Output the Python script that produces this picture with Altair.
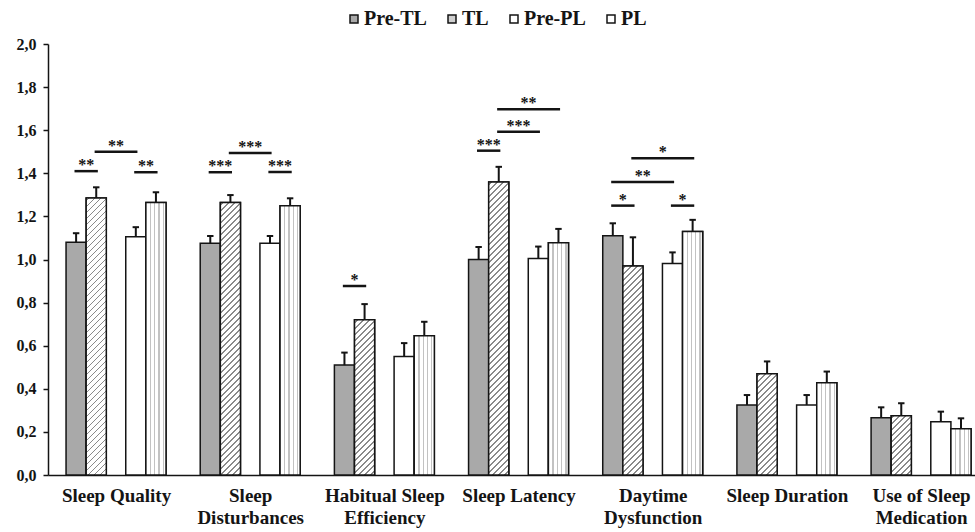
import json
import altair as alt

# ---------------- data ----------------
categories = ["Sleep Quality", "Sleep Disturbances", "Habitual Sleep Efficiency",
              "Sleep Latency", "Daytime Dysfunction", "Sleep Duration",
              "Use of Sleep Medication"]
category_lines = [["Sleep Quality"], ["Sleep", "Disturbances"],
                  ["Habitual Sleep", "Efficiency"], ["Sleep Latency"],
                  ["Daytime", "Dysfunction"], ["Sleep Duration"],
                  ["Use of Sleep", "Medication"]]
series = ["Pre-TL", "TL", "Pre-PL", "PL"]

pre_tl = [1.08, 1.075, 0.51, 1.00, 1.11, 0.325, 0.266]
pre_tl_se = [0.042, 0.034, 0.058, 0.058, 0.058, 0.046, 0.048]
tl = [1.285, 1.265, 0.72, 1.36, 0.97, 0.47, 0.275]
tl_se = [0.05, 0.034, 0.073, 0.07, 0.133, 0.057, 0.058]
pre_pl = [1.105, 1.075, 0.55, 1.005, 0.982, 0.325, 0.247]
pre_pl_se = [0.045, 0.034, 0.062, 0.055, 0.051, 0.046, 0.047]
pl = [1.265, 1.25, 0.646, 1.078, 1.13, 0.428, 0.215]
pl_se = [0.047, 0.034, 0.065, 0.064, 0.054, 0.052, 0.048]

# significance brackets
sig_cat = [0, 0, 0, 1, 1, 1, 2, 3, 3, 3, 4, 4, 4, 4]
sig_from = ["Pre-TL", "TL", "Pre-PL", "Pre-TL", "TL", "Pre-PL", "Pre-TL",
            "Pre-TL", "TL", "TL", "Pre-TL", "Pre-TL", "TL", "Pre-PL"]
sig_to = ["TL", "Pre-PL", "PL", "TL", "Pre-PL", "PL", "TL",
          "TL", "Pre-PL", "PL", "TL", "Pre-PL", "PL", "PL"]
sig_level = [1.41, 1.50, 1.405, 1.405, 1.494, 1.406, 0.877,
             1.505, 1.593, 1.697, 1.25, 1.36, 1.47, 1.25]
sig_label = ["**", "**", "**", "***", "***", "***", "*",
             "***", "***", "**", "*", "**", "*", "*"]

y_ticks = [round(i * 0.2, 1) for i in range(11)]

# ---------------- layout / style ----------------
W_PLOT, H_PLOT = 927, 431
X_DOMAIN = [-0.507, 6.402]
Y_DOMAIN = [0, 2]
PX_X = W_PLOT / (X_DOMAIN[1] - X_DOMAIN[0])
PX_Y = H_PLOT / (Y_DOMAIN[1] - Y_DOMAIN[0])
BAR_W = 0.15
slot_start = {"Pre-TL": -0.3725, "TL": -0.2225, "Pre-PL": 0.0725, "PL": 0.2225}
CAP = 0.024
FONT = "Liberation Serif"
INK = "#141414"
HATCH = "#8a8a8a"
fill_colors = ["#a9a9a9", "#cfcfcf", "#ffffff", "#ffffff"]


def diag_gradient(value):
    """'/' hatching inside a bar, expressed as a bbox-relative linear gradient."""
    w = BAR_W * PX_X
    h = max(value * PX_Y, 1.0)
    k = (w + h) / (w * w + h * h)
    L = w + h
    period, thick = 6.0, 1.7
    stops = [{"offset": 0, "color": "#ffffff"}]
    pos = 2.0
    while pos < L:
        a = round(pos / L, 5)
        b = round(min((pos + thick) / L, 1.0), 5)
        stops += [{"offset": a, "color": "#ffffff"}, {"offset": a, "color": HATCH},
                  {"offset": b, "color": HATCH}, {"offset": b, "color": "#ffffff"}]
        pos += period
    stops.append({"offset": 1, "color": "#ffffff"})
    return {"gradient": "linear", "x1": 0, "y1": 0,
            "x2": round(w * k, 6), "y2": round(h * k, 6), "stops": stops}


def vert_gradient():
    w = BAR_W * PX_X
    stops = [{"offset": 0, "color": "#ffffff"}]
    for xpx in [4.0, 8.3, 12.6, 16.9]:
        a = round(xpx / w, 5)
        b = round((xpx + 1.3) / w, 5)
        stops += [{"offset": a, "color": "#ffffff"}, {"offset": a, "color": "#c2c2c2"},
                  {"offset": b, "color": "#c2c2c2"}, {"offset": b, "color": "#ffffff"}]
    stops.append({"offset": 1, "color": "#ffffff"})
    return alt.Gradient(gradient="linear", x1=0, y1=0, x2=1, y2=0, stops=stops)


values = {"Pre-TL": (pre_tl, pre_tl_se), "TL": (tl, tl_se),
          "Pre-PL": (pre_pl, pre_pl_se), "PL": (pl, pl_se)}

rows = []
tl_rows = []
for i, cat in enumerate(categories):
    for s in series:
        v = values[s][0][i]
        e = values[s][1][i]
        x0 = i + slot_start[s]
        c = x0 + BAR_W / 2
        row = {"category": cat, "series": s, "value": v, "top": v + e,
               "x0": x0, "x1": x0 + BAR_W, "center": c,
               "cap0": c - CAP, "cap1": c + CAP}
        rows.append(row)
        if s == "TL":
            r2 = dict(row)
            r2["grad"] = diag_gradient(v)
            tl_rows.append(r2)

pl_rows = [r for r in rows if r["series"] == "PL"]

sig_rows = []
for ci, a, b, lvl, lab in zip(sig_cat, sig_from, sig_to, sig_level, sig_label):
    ca = ci + slot_start[a] + BAR_W / 2
    cb = ci + slot_start[b] + BAR_W / 2
    sig_rows.append({"xa": ca - 0.012, "xb": cb + 0.012, "xm": (ca + cb) / 2,
                     "level": lvl, "label": lab})

# ---------------- chart ----------------
xscale = alt.Scale(domain=X_DOMAIN, nice=False, zero=False)
yscale = alt.Scale(domain=Y_DOMAIN, nice=False, zero=True)

label_expr = json.dumps(category_lines) + "[datum.value]"

xaxis = alt.Axis(values=list(range(len(categories))), labelExpr=label_expr,
                 ticks=False, grid=False, domainColor=INK, domainWidth=1.5,
                 labelFont=FONT, labelFontWeight="bold", labelFontSize=19,
                 labelColor=INK, labelPadding=11, labelLineHeight=22,
                 labelOverlap=False, labelFlush=False, labelBound=False, title=None)
yaxis = alt.Axis(values=y_ticks,
                 labelExpr="replace(format(datum.value, '.1f'), '.', ',')",
                 grid=False, domainColor=INK, domainWidth=1.5, tickColor=INK,
                 tickWidth=1.5, tickSize=5, labelFont=FONT, labelFontWeight="bold",
                 labelFontSize=16, labelColor=INK, labelPadding=7,
                 labelOverlap=False, labelFlush=False, title=None)

base = alt.Chart(alt.Data(values=rows))

bars = base.mark_rect(stroke=INK, strokeWidth=1.5).encode(
    x=alt.X("x0:Q", scale=xscale, axis=xaxis),
    x2="x1:Q",
    y=alt.Y("value:Q", scale=yscale, axis=yaxis),
    y2=alt.datum(0),
    fill=alt.Fill("series:N", scale=alt.Scale(domain=series, range=fill_colors),
                  legend=alt.Legend(orient="none", legendX=296, legendY=-35,
                                    direction="horizontal", title=None,
                                    symbolType="square", symbolSize=64,
                                    symbolStrokeColor=INK, symbolStrokeWidth=1.5,
                                    labelFont=FONT, labelFontWeight="bold",
                                    labelFontSize=20, labelColor=INK,
                                    labelOffset=0, columnPadding=15, padding=0)),
)

tl_overlay = alt.Chart(alt.Data(values=tl_rows)).mark_rect(
    stroke=INK, strokeWidth=1.5).encode(
    x="x0:Q", x2="x1:Q", y="value:Q", y2=alt.datum(0),
    fill=alt.Fill(field="grad", type="nominal", scale=None, legend=None),
)

pl_overlay = alt.Chart(alt.Data(values=pl_rows)).mark_rect(
    stroke=INK, strokeWidth=1.5, fill=vert_gradient()).encode(
    x="x0:Q", x2="x1:Q", y="value:Q", y2=alt.datum(0),
)

err = base.mark_rule(color=INK, strokeWidth=2).encode(
    x="center:Q", y="value:Q", y2="top:Q")
caps = base.mark_rule(color=INK, strokeWidth=2).encode(
    x="cap0:Q", x2="cap1:Q", y="top:Q")

sig_base = alt.Chart(alt.Data(values=sig_rows))
sig_lines = sig_base.mark_rule(color=INK, strokeWidth=2.5).encode(
    x="xa:Q", x2="xb:Q", y="level:Q")
sig_text = sig_base.mark_text(font=FONT, fontWeight="bold", fontSize=16,
                              color=INK, baseline="alphabetic", dy=-1).encode(
    x="xm:Q", y="level:Q", text="label:N")

chart = alt.layer(bars, tl_overlay, pl_overlay, err, caps, sig_lines, sig_text).properties(
    width=W_PLOT, height=H_PLOT,
    autosize=alt.AutoSizeParams(type="none"),
    padding={"left": 48, "top": 44, "right": 0, "bottom": 57},
    background="white",
).configure_view(stroke=None)

chart.save("out.html", embed_options={"renderer": "svg", "actions": False})
